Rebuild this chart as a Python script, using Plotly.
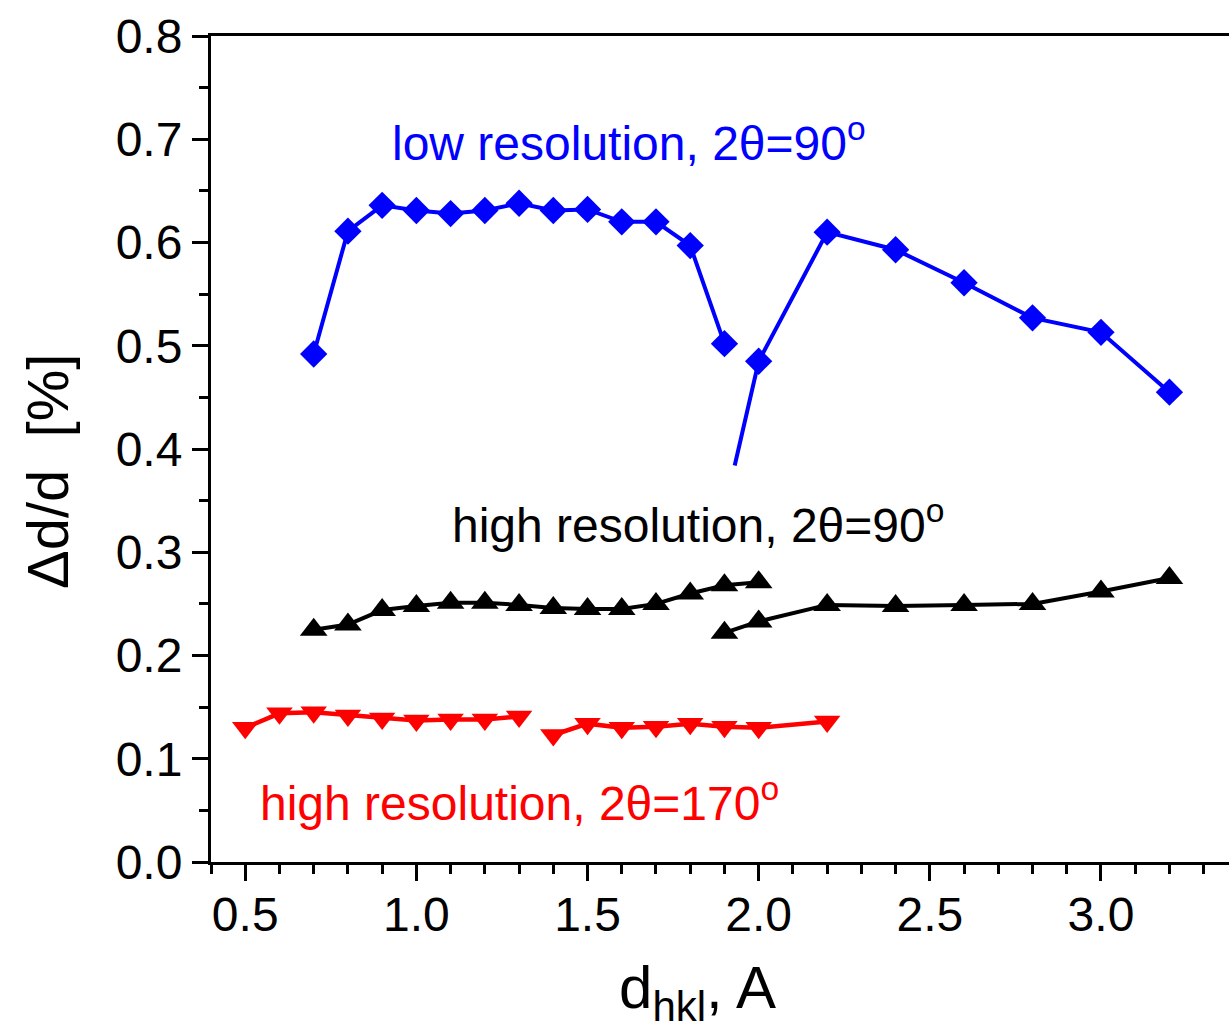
import plotly.graph_objects as go

# ---- data ----
low90_x1 = [0.7, 0.8, 0.9, 1.0, 1.1, 1.2, 1.3, 1.4, 1.5, 1.6, 1.7, 1.8, 1.9]
low90_y1 = [0.492, 0.611, 0.636, 0.631, 0.628, 0.631, 0.638, 0.631, 0.632, 0.620, 0.620, 0.597, 0.502]
low90_x2 = [1.93, 2.0, 2.2, 2.4, 2.6, 2.8, 3.0, 3.2]
low90_y2 = [0.384, 0.485, 0.610, 0.593, 0.561, 0.527, 0.513, 0.455]
low90_marker2 = [0, 21, 21, 21, 21, 21, 21, 21]

high90_x1 = [0.7, 0.8, 0.9, 1.0, 1.1, 1.2, 1.3, 1.4, 1.5, 1.6, 1.7, 1.8, 1.9, 2.0]
high90_y1 = [0.225, 0.230, 0.244, 0.248, 0.251, 0.251, 0.249, 0.246, 0.245, 0.245, 0.250, 0.260, 0.268, 0.271]
high90_x2 = [1.9, 2.0, 2.2, 2.4, 2.6, 2.8, 3.0, 3.2]
high90_y2 = [0.222, 0.233, 0.249, 0.248, 0.249, 0.250, 0.262, 0.275]

high170_x1 = [0.5, 0.6, 0.7, 0.8, 0.9, 1.0, 1.1, 1.2, 1.3]
high170_y1 = [0.130, 0.144, 0.145, 0.142, 0.139, 0.137, 0.138, 0.138, 0.141]
high170_x2 = [1.4, 1.5, 1.6, 1.7, 1.8, 1.9, 2.0, 2.2]
high170_y2 = [0.123, 0.134, 0.130, 0.131, 0.134, 0.131, 0.130, 0.136]

x_ticks = [0.5, 1.0, 1.5, 2.0, 2.5, 3.0]
y_ticks = [0.0, 0.1, 0.2, 0.3, 0.4, 0.5, 0.6, 0.7, 0.8]

FONT = "Liberation Sans, Arial, sans-serif"
BLUE = "#0000ff"
BLACK = "#000000"
RED = "#ff0000"

fig = go.Figure()

def add(x, y, color, symbol, size, lw):
    fig.add_trace(go.Scatter(
        x=x, y=y, mode="lines+markers",
        line=dict(color=color, width=lw),
        marker=dict(symbol=symbol, size=size, color=color, opacity=1, line=dict(width=0)),
        showlegend=False, cliponaxis=False,
    ))

add(low90_x1, low90_y1, BLUE, "diamond", 21, 4)
add(low90_x2, low90_y2, BLUE, "diamond", low90_marker2, 4)
add(high90_x1, high90_y1, BLACK, "triangle-up", 24, 4)
add(high90_x2, high90_y2, BLACK, "triangle-up", 24, 4)
add(high170_x1, high170_y1, RED, "triangle-down", 23, 4.5)
add(high170_x2, high170_y2, RED, "triangle-down", 23, 4.5)

ann_font = 48
fig.add_annotation(x=0.923, y=0.699, xref="x", yref="y", xanchor="left", yanchor="middle",
                   text="low resolution, 2θ=90<sup>o</sup>", showarrow=False,
                   font=dict(family=FONT, size=ann_font, color=BLUE))
fig.add_annotation(x=1.098, y=0.329, xref="x", yref="y", xanchor="left", yanchor="middle",
                   text="high resolution, 2θ=90<sup>o</sup>", showarrow=False,
                   font=dict(family=FONT, size=ann_font, color=BLACK))
fig.add_annotation(x=0.537, y=0.060, xref="x", yref="y", xanchor="left", yanchor="middle",
                   text="high resolution, 2θ=170<sup>o</sup>", showarrow=False,
                   font=dict(family=FONT, size=ann_font, color=RED))

# axis titles as annotations for precise placement
fig.add_annotation(x=(697 - 211) / 1018, y=-(992 - 862) / 826, xref="paper", yref="paper",
                   xanchor="center", yanchor="middle",
                   text="d<sub>hkl</sub>, A", showarrow=False,
                   font=dict(family=FONT, size=60, color="black"))
fig.add_annotation(x=-(211 - 48) / 1018, y=(862 - 472) / 826, xref="paper", yref="paper",
                   xanchor="center", yanchor="middle", textangle=-90,
                   text="Δd/d  [%]", showarrow=False,
                   font=dict(family=FONT, size=58, color="black"))

axis_common = dict(
    showgrid=False, zeroline=False, showline=True, linecolor="black", linewidth=3,
    ticks="outside", ticklen=16, tickwidth=3, tickcolor="black",
    tickfont=dict(family=FONT, size=48, color="black"),
)

fig.update_xaxes(
    range=[0.4, 3.374], tickvals=x_ticks, ticktext=[f"{v:.1f}" for v in x_ticks],
    mirror=True, ticklabelstandoff=-8,
    minor=dict(ticks="outside", ticklen=9, tickwidth=3, tickcolor="black", dtick=0.1, tick0=0.4),
    **axis_common,
)
fig.update_yaxes(
    range=[0.0, 0.8], tickvals=y_ticks, ticktext=[f"{v:.1f}" for v in y_ticks],
    minor=dict(ticks="outside", ticklen=9, tickwidth=3, tickcolor="black", dtick=0.05, tick0=0),
    **axis_common,
)

fig.update_layout(
    width=1229, height=1034,
    margin=dict(l=211, r=0, t=36, b=172),
    plot_bgcolor="white", paper_bgcolor="white",
    showlegend=False,
)

fig.write_html("out.html")
